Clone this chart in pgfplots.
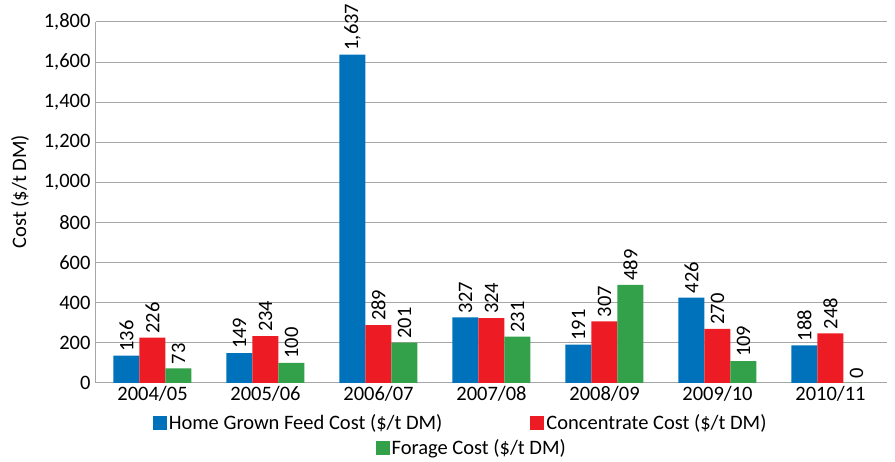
\documentclass[border=0pt]{standalone}
\usepackage{pgfplots}
\pgfplotsset{compat=1.18}
\usepackage{fontspec}
\setmainfont{Carlito}
\definecolor{cblue}{RGB}{0,114,188}
\definecolor{cred}{RGB}{237,28,36}
\definecolor{cgreen}{RGB}{51,160,74}
\definecolor{cgrid}{RGB}{166,166,166}
\pgfplotsset{
  mylegend/.style={
    legend image code/.code={\draw[##1,draw=none] (-5pt,-7pt) rectangle (9pt,7pt);},
  },
}
\begin{document}
\begin{tikzpicture}[x=1pt,y=1pt]
\useasboundingbox (0,0) rectangle (895,462);
\begin{axis}[
  at={(96pt,79pt)}, anchor=south west,
  scale only axis, width=791pt, height=361pt,
  ybar=0pt, bar width=26pt,
  xmin=-0.5, xmax=6.5, ymin=0, ymax=1800,
  xtick={0,1,2,3,4,5,6},
  xticklabels={2004/05,2005/06,2006/07,2007/08,2008/09,2009/10,2010/11},
  ytick={0,200,...,1800},
  ymajorgrids, grid style={cgrid, line width=1pt},
  axis x line*=bottom, axis y line*=left,
  axis line style={draw=cgrid, line width=1pt, -},
  major tick length=0pt,
  font=\fontsize{20.5}{24}\selectfont,
  yticklabel style={xshift=-2pt},
  /pgf/number format/1000 sep={,},
  /pgf/number format/assume math mode=true,
  ylabel={Cost (\$/t DM)},
  ylabel style={at={(axis description cs:-0.0961,0.53)}, anchor=center, rotate=0},
  nodes near coords,
  nodes near coords style={rotate=90, anchor=west, text=black, inner sep=4pt, font=\fontsize{20.5}{24}\selectfont},
  mylegend,
  legend style={at={(axis description cs:0.461,-0.111)}, anchor=center, draw=none, fill=none,
    font=\fontsize{20.5}{24}\selectfont,
    /tikz/every even column/.append style={column sep=86pt}},
  legend columns=2,
]
\addplot[fill=cblue, draw=none] coordinates {(0,136) (1,149) (2,1637) (3,327) (4,191) (5,426) (6,188)};
\addlegendentry{Home Grown Feed Cost (\$/t DM)}
\addplot[fill=cred, draw=none] coordinates {(0,226) (1,234) (2,289) (3,324) (4,307) (5,270) (6,248)};
\addlegendentry{Concentrate Cost (\$/t DM)}
\addplot[fill=cgreen, draw=none] coordinates {(0,73) (1,100) (2,201) (3,231) (4,489) (5,109) (6,0)};
\end{axis}
\begin{axis}[
  at={(96pt,79pt)}, anchor=south west,
  scale only axis, width=791pt, height=361pt,
  xmin=-0.5, xmax=6.5, ymin=0, ymax=1800,
  hide axis,
  mylegend,
  legend style={at={(axis description cs:0.475,-0.18)}, anchor=center, draw=none, fill=none,
    font=\fontsize{20.5}{24}\selectfont},
]
\addlegendimage{fill=cgreen, draw=none}
\addlegendentry{Forage Cost (\$/t DM)}
\end{axis}
\end{tikzpicture}
\end{document}
